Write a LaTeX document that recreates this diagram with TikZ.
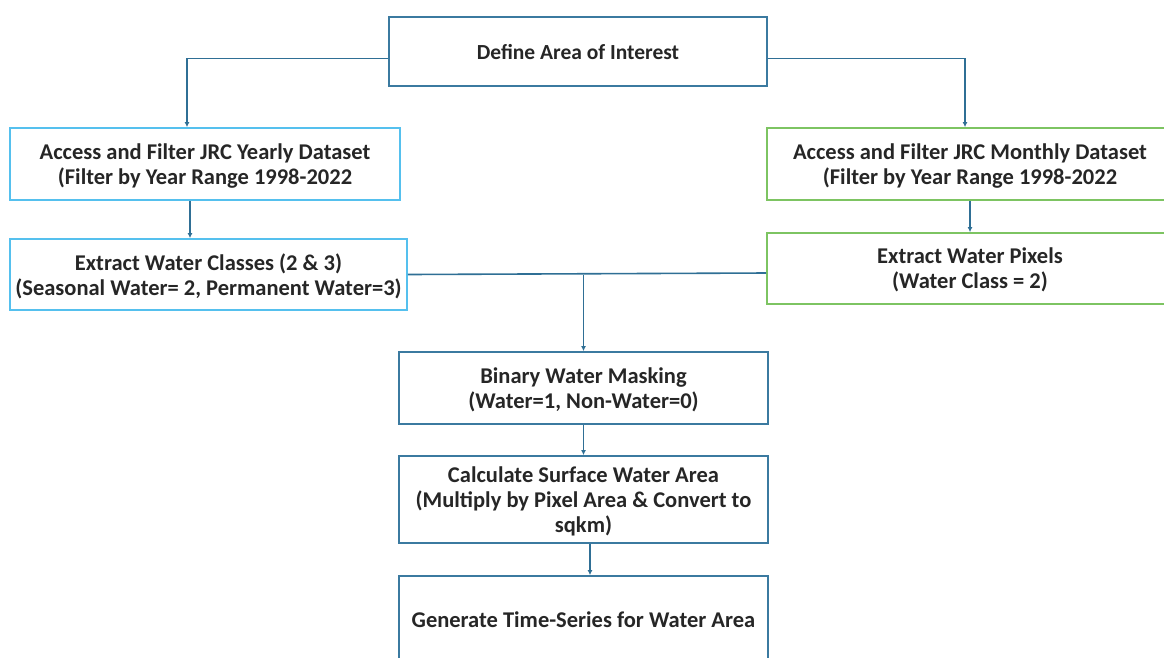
\documentclass[tikz,border=0pt]{standalone}
\usepackage{fontspec}
\setmainfont{Carlito}
\usetikzlibrary{arrows.meta}
\definecolor{conn}{HTML}{2F6F95}
\definecolor{dbox}{HTML}{3B7AA0}
\definecolor{lbox}{HTML}{55C0EE}
\definecolor{gbox}{HTML}{7DC462}
\tikzset{
  box/.style={draw=dbox, line width=1.8pt, fill=white, align=center, inner sep=0pt, text depth=0pt,
    font=\bfseries\fontsize{22.5}{25}\selectfont, text=black!85},
  bluebox/.style={box, draw=lbox},
  greenbox/.style={box, draw=gbox},
  arr/.style={draw=conn, line width=1.6pt, -{Latex[length=5pt,width=5pt]}},
  ln/.style={draw=conn, line width=1.6pt},
}
\begin{document}
\begin{tikzpicture}[x=1pt,y=-1pt]
\path[use as bounding box, clip] (0,0) rectangle (1164,657);
\fill[white] (0,0) rectangle (1164,657);
\node[box, minimum width=378pt, minimum height=69pt, font=\bfseries\fontsize{21.5}{24}\selectfont] (top) at (578,51.5) {Define Area of Interest};
\node[bluebox, minimum width=390pt, minimum height=72pt] (L1) at (205,164) {Access and Filter JRC Yearly Dataset\\(Filter by Year Range 1998-2022};
\node[bluebox, minimum width=397pt, minimum height=71pt] (L2) at (208.5,274.5) {Extract Water Classes (2 \& 3)\\(Seasonal Water= 2, Permanent Water=3)};
\node[greenbox, minimum width=406pt, minimum height=72pt] (R1) at (970,164) {Access and Filter JRC Monthly Dataset\\(Filter by Year Range 1998-2022};
\node[greenbox, minimum width=406pt, minimum height=71pt] (R2) at (970,268.5) {Extract Water Pixels\\(Water Class = 2)};
\node[box, minimum width=369pt, minimum height=72pt] (B) at (583.5,388) {Binary Water Masking\\(Water=1, Non-Water=0)};
\node[box, minimum width=369pt, minimum height=87pt] (C) at (583.5,499.5) {Calculate Surface Water Area\\(Multiply by Pixel Area \& Convert to\\sqkm)};
\node[box, minimum width=369pt, minimum height=88pt] (G) at (583.5,620) {Generate Time-Series for Water Area};
% connectors
\draw[arr] ([yshift=-7pt]top.west) -| ([xshift=-18pt]L1.north);
\draw[arr] ([yshift=-7pt]top.east) -| ([xshift=-5pt]R1.north);
\draw[arr] ([xshift=-15pt]L1.south) -- ([xshift=-15pt]L1.south |- L2.north);
\draw[arr] (R1.south) -- (R2.north);
\draw[ln] (L2.east) -- ([yshift=-4.5pt]R2.west);
\coordinate (j) at (B.north |- L2.east);
\draw[arr] (j) -- (B.north);
\draw[arr] (B.south) -- (C.north);
\draw[arr] ([xshift=6.5pt]C.south) -- ([xshift=6.5pt]C.south |- G.north);
\end{tikzpicture}
\end{document}
